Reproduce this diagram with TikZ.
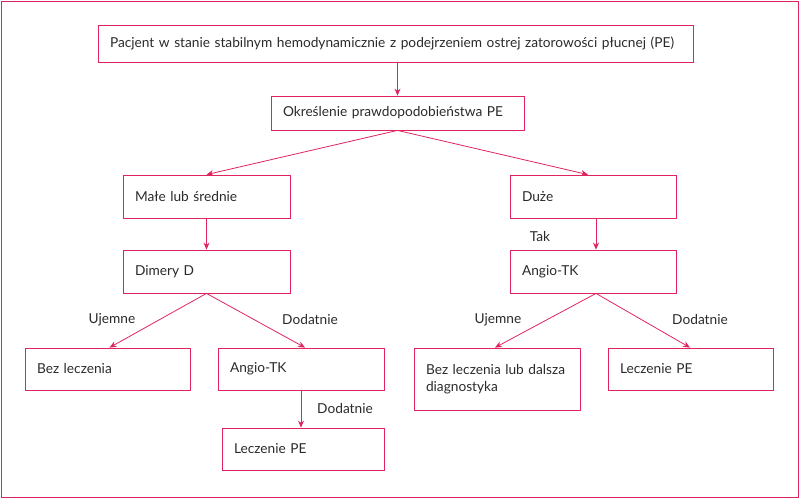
\documentclass[tikz,border=0pt]{standalone}
\usepackage{fontspec}
\setmainfont{Lato}
\usetikzlibrary{arrows.meta}
\definecolor{pk}{HTML}{E0245E}
\definecolor{tx}{HTML}{2A2A2A}
\begin{document}
\begin{tikzpicture}[x=1pt,y=-1pt,font=\fontsize{13.7}{17}\selectfont,text=tx,
 box/.style={draw=pk,line width=0.8pt,inner sep=0pt,align=left},
 arr/.style={draw=pk,line width=0.8pt,-{Stealth[length=7pt,width=6pt]}},
 lab/.style={inner sep=1pt}]
\draw[pk,line width=0.8pt] (1.5,1.5) rectangle (798.5,497.5);
\useasboundingbox (0,0) rectangle (800,499);
\newcommand{\bx}[6]{\node[box,minimum width=#4-#2,minimum height=#5-#3,text width=#4-#2-24] (#1) at ({(#2+#4)/2},{(#3+#5)/2}) {#6};}
\bx{top}{98}{25}{693}{62}{Pacjent w stanie stabilnym hemodynamicznie z podejrzeniem ostrej zatorowości płucnej (PE)}
\bx{prob}{271}{96}{524}{130}{Określenie prawdopodobieństwa PE}
\bx{male}{123}{175}{290}{218}{Małe lub średnie}
\bx{duze}{510}{175}{676}{218}{Duże}
\bx{dim}{123}{250}{290}{293}{Dimery D}
\bx{angr}{510}{250}{676}{293}{Angio-TK}
\bx{bez}{25}{348}{190}{390}{Bez leczenia}
\bx{angl}{218}{348}{384}{390}{Angio-TK}
\bx{bezd}{414}{348}{580}{410}{Bez leczenia lub dalsza diagnostyka}
\bx{lecr}{608}{348}{773}{390}{Leczenie PE}
\bx{lecb}{222}{428}{384}{470}{Leczenie PE}
\draw[arr] (prob.north |- top.south) -- (prob.north);
\draw[arr] (prob.south) -- (male.north);
\draw[arr] (prob.south) -- ([xshift=-5pt]duze.north);
\draw[arr] (male.south) -- (dim.north);
\draw[arr] ([xshift=3pt]duze.south) -- ([xshift=3pt]angr.north);
\draw[arr] (dim.south) -- ([xshift=2pt]bez.north);
\draw[arr] (dim.south) -- ([xshift=4pt]angl.north);
\draw[arr] ([xshift=3pt]angr.south) -- ([xshift=-2pt]bezd.north);
\draw[arr] ([xshift=3pt]angr.south) -- ([xshift=-0.5pt]lecr.north);
\draw[arr] (angl.south) -- (angl.south |- lecb.north);
\node[lab] (l1) at (112,320) {Ujemne};
\node[lab] (l2) at (310,320) {Dodatnie};
\node[lab] (l3) at (540,237) {Tak};
\node[lab] (l4) at (498,320) {Ujemne};
\node[lab] (l5) at (700,320) {Dodatnie};
\node[lab] (l6) at (345,408) {Dodatnie};
\end{tikzpicture}
\end{document}
